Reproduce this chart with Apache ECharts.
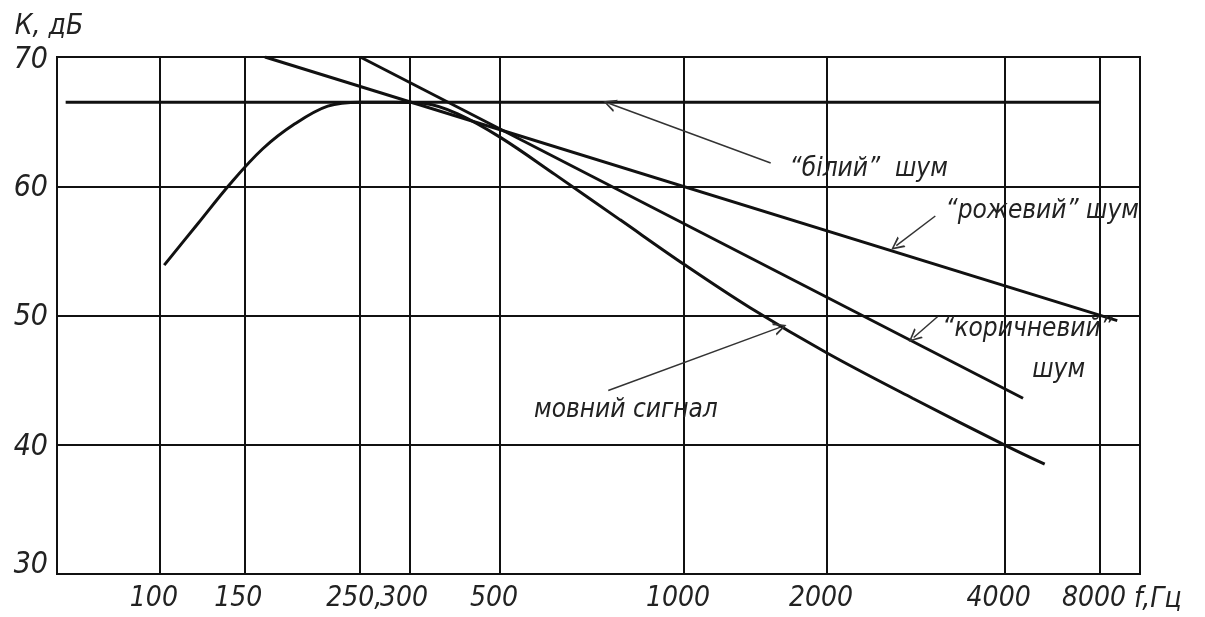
<!DOCTYPE html>
<html>
<head>
<meta charset="utf-8">
<script src="https://cdn.jsdelivr.net/npm/echarts@6/dist/echarts.min.js"></script>
<style>
  html, body { margin: 0; padding: 0; background: #fff; }
  #chart { width: 1205px; height: 617px; }
</style>
</head>
<body>
<div id="chart"></div>
<script>
// Frequency axis: hand-spaced grid, positions given in axis units (0–100 across the frame)
const freqLabels = ['100', '150', '250,', '300', '500', '1000', '2000', '4000', '8000'];
const freqPos = [9.5, 17.3, 28.0, 32.6, 40.9, 57.9, 71.1, 87.5, 96.3];

// Level axis, dB
const levelMin = 30;
const levelMax = 70;
const levelStep = 10;

// Curves: [axis position, level dB]
const whiteNoise = [[0.8, 66.5], [96.4, 66.5]];
const pinkNoise = [[19.2, 70], [97.9, 49.6]];
const brownNoise = [[28.0, 70], [89.2, 43.6]];
const speechSignal = [
  [9.9, 53.9], [13, 57.1], [16, 60.2], [19, 62.9], [22, 64.85],
  [25, 66.2], [28, 66.5], [31, 66.5], [34, 66.4], [37, 65.6],
  [40.9, 63.8], [46, 60.9], [52, 57.4], [58, 53.9], [64, 50.6],
  [71.1, 47.1], [79, 43.6], [87.7, 39.9], [91.2, 38.5]
];

// Captions: [axis position of left edge, level of text middle, text]
const noteAt = [
  [67.6, 61.3, '\u201Cбілий\u201D  шум'],
  [82.0, 58.1, '\u201Cрожевий\u201D шум'],
  [81.7, 48.9, '\u201Cкоричневий\u201D'],
  [90.0, 45.8, 'шум'],
  [44.0, 42.7, 'мовний сигнал']
];

// Leader arrows from captions to curves: [from, to]
const leaders = [
  [[65.9, 61.8], [51.0, 66.4]],
  [[81.1, 57.7], [77.5, 55.4]],
  [[81.3, 49.9], [79.1, 48.3]],
  [[50.9, 44.2], [66.8, 49.1]]
];

const FONT = '"Liberation Sans Narrow", "DejaVu Sans Condensed", "Liberation Sans", sans-serif';
const ink = '#111';
const textInk = '#222';
const baseText = { fontFamily: FONT, fontStyle: 'italic', color: textInk };

const curveStyle = { color: ink, width: 3 };
function curve(name, data, extra) {
  return Object.assign({
    name: name,
    type: 'line',
    data: data,
    showSymbol: false,
    symbol: 'none',
    lineStyle: curveStyle,
    silent: true,
    z: 5
  }, extra || {});
}

const chart = echarts.init(document.getElementById('chart'), null, { renderer: 'canvas' });

const option = {
  animation: false,
  backgroundColor: '#fff',
  grid: {
    left: 57, right: 65, top: 57, bottom: 43,
    show: true, borderColor: ink, borderWidth: 2
  },
  xAxis: {
    type: 'value',
    min: 0,
    max: 100,
    name: 'f,Гц',
    nameLocation: 'end',
    nameGap: -6,
    nameTextStyle: Object.assign({}, baseText, {
      fontSize: 28, align: 'left', verticalAlign: 'top', padding: [12, 0, 0, 0]
    }),
    axisLine: { show: true, lineStyle: { color: ink, width: 2 } },
    axisTick: { show: false, customValues: freqPos },
    axisLabel: Object.assign({}, baseText, {
      customValues: freqPos,
      hideOverlap: false,
      formatter: function (v) {
        const i = freqPos.findIndex(function (p) { return Math.abs(p - v) < 1e-6; });
        return i >= 0 ? freqLabels[i] : '';
      },
      fontSize: 28,
      margin: 11,
      padding: [0, 12, 0, 0]
    }),
    splitLine: { show: true, lineStyle: { color: ink, width: 2 } }
  },
  yAxis: {
    type: 'value',
    min: levelMin,
    max: levelMax,
    interval: levelStep,
    name: 'К, дБ',
    nameLocation: 'end',
    nameGap: 16,
    nameTextStyle: Object.assign({}, baseText, {
      fontSize: 28, align: 'center', padding: [0, 16, 0, 0]
    }),
    axisLine: { show: true, lineStyle: { color: ink, width: 2 } },
    axisTick: { show: false },
    axisLabel: Object.assign({}, baseText, {
      fontSize: 30,
      margin: 9,
      formatter: function (v) {
        if (v === levelMin) return '{low|' + v + '}';
        if (v === levelMax) return '{high|' + v + '}';
        return '{mid|' + v + '}';
      },
      rich: {
        low: Object.assign({}, baseText, { fontSize: 30, padding: [0, 0, 18, 0] }),
        high: Object.assign({}, baseText, { fontSize: 30, padding: [6, 0, 0, 0] }),
        mid: Object.assign({}, baseText, { fontSize: 30, padding: [4, 0, 0, 0] })
      }
    }),
    splitLine: { show: true, lineStyle: { color: ink, width: 2 } }
  },
  series: [
    curve('білий шум', whiteNoise),
    curve('рожевий шум', pinkNoise),
    curve('коричневий шум', brownNoise),
    curve('мовний сигнал', speechSignal, { smooth: 0.35 }),
    {
      name: 'стрілки',
      type: 'lines',
      coordinateSystem: 'cartesian2d',
      silent: true,
      symbol: ['none', 'path://M5,0 L10,12 L8.4,12 L5,3.2 L1.6,12 L0,12 Z'],
      symbolSize: [9, 13],
      lineStyle: { color: '#333', width: 1.5, curveness: 0, opacity: 1 },
      itemStyle: { color: '#333' },
      data: leaders.map(function (l) { return { coords: l }; }),
      z: 6
    },
    {
      name: 'підписи',
      type: 'scatter',
      silent: true,
      symbolSize: 1,
      itemStyle: { color: 'rgba(0,0,0,0)' },
      data: noteAt.map(function (n) { return { value: [n[0], n[1]], name: n[2] }; }),
      label: Object.assign({}, baseText, {
        show: true,
        position: 'right',
        distance: 0,
        fontSize: 26,
        opacity: 1,
        color: textInk,
        formatter: function (p) { return p.name; }
      }),
      labelLayout: { hideOverlap: false },
      z: 7
    }
  ]
};

chart.setOption(option);
</script>
</body>
</html>
